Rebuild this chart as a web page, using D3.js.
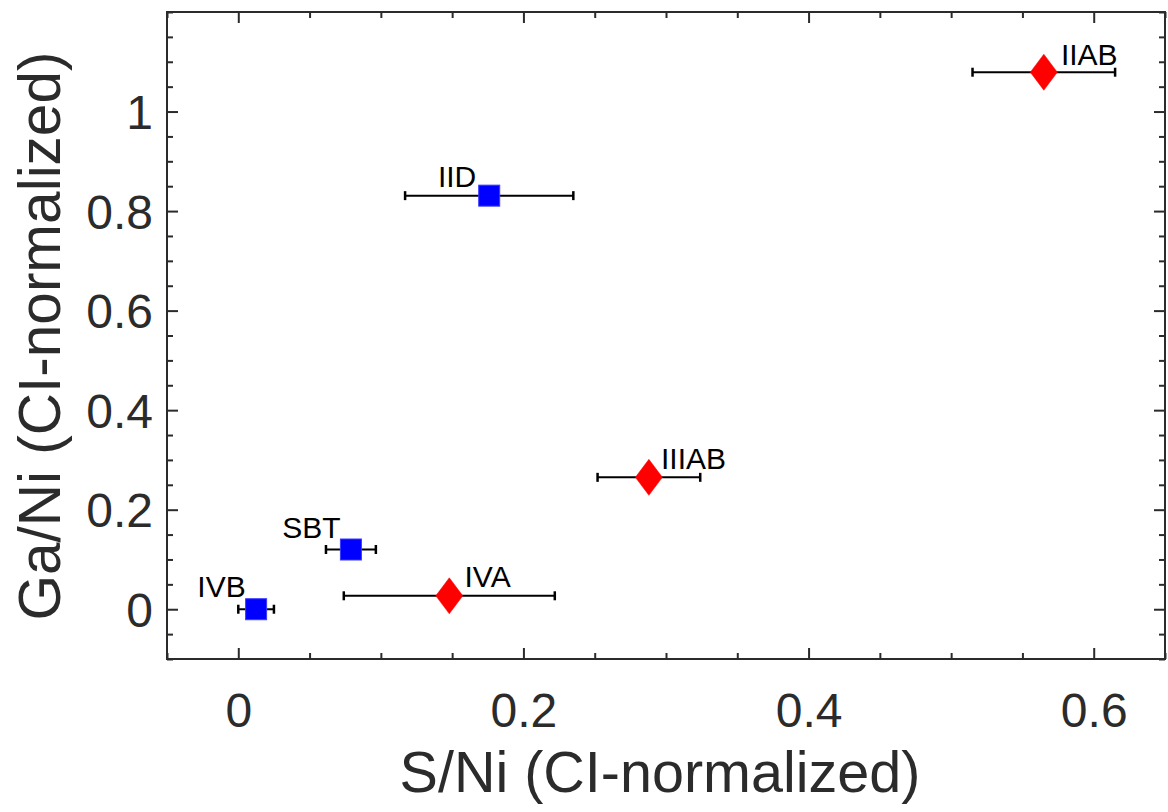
<!DOCTYPE html>
<html>
<head>
<meta charset="utf-8">
<script src="https://cdn.jsdelivr.net/npm/d3@7"></script>
<style>
  html, body { margin: 0; padding: 0; background: #fff; }
  text { font-family: "Liberation Sans", Arial, Helvetica, sans-serif; }
</style>
</head>
<body>
<svg id="chart" width="1168" height="812"></svg>
<script>
// ---- data ----
const groups   = ["IVB", "SBT", "IVA", "IID", "IIIAB", "IIAB"];
const sNi      = [0.0125, 0.079, 0.148, 0.176, 0.288, 0.565];
const gaNi     = [0.0, 0.12, 0.027, 0.831, 0.265, 1.079];
const sNiErr   = [0.0125, 0.0175, 0.074, 0.059, 0.036, 0.05];
const shapes   = ["square", "square", "diamond", "square", "diamond", "diamond"];
const labelX   = [-0.0287, 0.0308, 0.1587, 0.140, 0.2965, 0.577];
const labelY   = [0.024, 0.1426, 0.044, 0.849, 0.281, 1.094];
const xTicks   = [0, 0.2, 0.4, 0.6];
const yTicks   = [0, 0.2, 0.4, 0.6, 0.8, 1];
const xTickLabels = ["0", "0.2", "0.4", "0.6"];
const yTickLabels = ["0", "0.2", "0.4", "0.6", "0.8", "1"];
const xTitle = "S/Ni (CI-normalized)";
const yTitle = "Ga/Ni (CI-normalized)";

// ---- layout ----
const L = 167, R = 1165, T = 12, B = 659;
const axisColor = "#2b2b2b";
const svg = d3.select("#chart");

const x = d3.scaleLinear().domain([-0.05, 0.65]).range([L, R]);
const y = d3.scaleLinear().domain([-0.1, 1.2]).range([B, T]);

const xMinor = d3.range(-0.05, 0.651, 0.05).map(v => +v.toFixed(3));
const yMinor = d3.range(-0.1, 1.201, 0.05).map(v => +v.toFixed(3));
const isMajor = (v, arr) => arr.some(t => Math.abs(t - v) < 1e-6);

const g = svg.append("g");

// ticks via d3 axes (inward)
function tickAxis(axisFn, scale, vals, transform, len) {
  const a = axisFn(scale).tickValues(vals).tickSize(len).tickFormat("");
  const sel = g.append("g").attr("transform", transform).call(a);
  sel.select(".domain").remove();
  sel.selectAll(".tick line").attr("stroke", axisColor).attr("stroke-width", 2);
  return sel;
}
const xMin = xMinor.filter(v => !isMajor(v, xTicks));
const yMin = yMinor.filter(v => !isMajor(v, yTicks));
tickAxis(d3.axisTop, x, xTicks, `translate(0,${B})`, 11);
tickAxis(d3.axisTop, x, xMin, `translate(0,${B})`, 6);
tickAxis(d3.axisBottom, x, xTicks, `translate(0,${T})`, 11);
tickAxis(d3.axisBottom, x, xMin, `translate(0,${T})`, 6);
tickAxis(d3.axisRight, y, yTicks, `translate(${L},0)`, 11);
tickAxis(d3.axisRight, y, yMin, `translate(${L},0)`, 6);
tickAxis(d3.axisLeft, y, yTicks, `translate(${R},0)`, 11);
tickAxis(d3.axisLeft, y, yMin, `translate(${R},0)`, 6);

// box
g.append("rect").attr("x", L).attr("y", T).attr("width", R - L).attr("height", B - T)
  .attr("fill", "none").attr("stroke", axisColor).attr("stroke-width", 2);

// tick labels
const xl = d3.axisBottom(x).tickValues(xTicks).tickSize(0).tickPadding(0)
  .tickFormat((d, i) => xTickLabels[i]);
const xlg = g.append("g").attr("transform", `translate(0,${B})`).call(xl);
xlg.select(".domain").remove();
xlg.selectAll("text").attr("dy", null).attr("y", 68).attr("font-size", 48)
  .attr("fill", axisColor).attr("font-family", "Liberation Sans, Arial, sans-serif");

const yl = d3.axisLeft(y).tickValues(yTicks).tickSize(0).tickPadding(14)
  .tickFormat((d, i) => yTickLabels[i]);
const ylg = g.append("g").attr("transform", `translate(${L},0)`).call(yl);
ylg.select(".domain").remove();
ylg.selectAll("text").attr("dy", "0.36em").attr("font-size", 48)
  .attr("fill", axisColor).attr("font-family", "Liberation Sans, Arial, sans-serif");

// axis titles
svg.append("text").attr("x", 660).attr("y", 792).attr("text-anchor", "middle")
  .attr("font-size", 57.5).attr("fill", axisColor).text(xTitle);
svg.append("text").attr("transform", `translate(60,336) rotate(-90)`)
  .attr("text-anchor", "middle").attr("font-size", 58.5).attr("fill", axisColor).text(yTitle);

// data
const data = groups.map((name, i) => ({
  name, x: sNi[i], y: gaNi[i], e: sNiErr[i], shape: shapes[i], lx: labelX[i], ly: labelY[i]
}));

// error bars
const eb = g.append("g");
data.forEach(d => {
  const yy = y(d.y);
  eb.append("line").attr("x1", x(d.x - d.e)).attr("x2", x(d.x + d.e))
    .attr("y1", yy).attr("y2", yy).attr("stroke", "#000").attr("stroke-width", 2);
  [d.x - d.e, d.x + d.e].forEach(v => {
    eb.append("line").attr("x1", x(v)).attr("x2", x(v))
      .attr("y1", yy - 4.5).attr("y2", yy + 4.5).attr("stroke", "#000").attr("stroke-width", 2.5);
  });
});

// markers
data.forEach(d => {
  const cx = x(d.x), cy = y(d.y);
  if (d.shape === "square") {
    const s = 21;
    g.append("rect").attr("x", cx - s / 2).attr("y", cy - s / 2).attr("width", s).attr("height", s)
      .attr("fill", "#0000ff").attr("stroke", "#3a3aff").attr("stroke-width", 1);
  } else {
    const hw = 13.5, hh = 18;
    g.append("path").attr("d", `M${cx},${cy - hh}L${cx + hw},${cy}L${cx},${cy + hh}L${cx - hw},${cy}Z`)
      .attr("fill", "#ff0000").attr("stroke", "#ff0000").attr("stroke-width", 0.5);
  }
});

// labels
data.forEach(d => {
  g.append("text").attr("x", x(d.lx)).attr("y", y(d.ly)).attr("font-size", 30)
    .attr("fill", "#000").text(d.name);
});
</script>
</body>
</html>
